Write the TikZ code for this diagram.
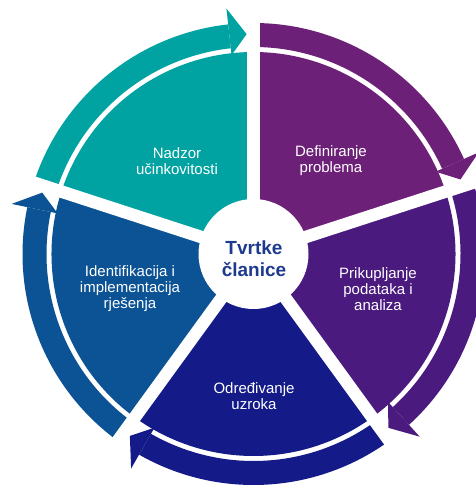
\documentclass[tikz,border=0pt]{standalone}
\usepackage{fontspec}
\setmainfont{Liberation Sans}
\definecolor{cteal}{HTML}{00A3A1}
\definecolor{cpurA}{HTML}{6D2077}
\definecolor{cpurB}{HTML}{4A1A7F}
\definecolor{cnavy}{HTML}{141A87}
\definecolor{cblue}{HTML}{0B5394}
\definecolor{ctext}{HTML}{1E3A8F}
\tikzset{
  lbl/.style={text=white, align=center, font=\fontsize{15}{16}\selectfont, inner sep=0pt},
  ctr/.style={text=ctext, align=center, font=\fontsize{19}{22}\selectfont\bfseries, inner sep=0pt},
  gapline/.style={white, line width=12.5pt},
}
\newcommand{\cyclepart}[3]{% color, start angle, end angle (clockwise)
  \fill[#1] (0,0) -- (#3:202) arc[start angle=#3, end angle=#2, radius=202] -- cycle;
  \fill[#1] (#3+6.3:207) arc[start angle=#3+6.3, end angle=#2, radius=207]
        -- (#2:231) arc[start angle=#2, end angle=#3+6.3, radius=231] -- cycle;
  \fill[#1] (#3+6.3:200) -- (#3+6.3:247) -- (#3+1.8:220) -- cycle;
}
\begin{document}
\begin{tikzpicture}[x=1pt,y=1pt]
\useasboundingbox (0,0) rectangle (476,488);
\clip (0,0) rectangle (476,488);
\coordinate (C) at (253.5,234);
\begin{scope}[shift={(C)}]
  \cyclepart{cteal}{162}{90}
  \cyclepart{cpurA}{90}{18}
  \cyclepart{cpurB}{18}{-54}
  \cyclepart{cnavy}{-54}{-126}
  \cyclepart{cblue}{-126}{-198}
  \foreach \b in {90,18,-54,-126,162}
    \draw[gapline] (0,0) -- (\b:236);
  \fill[white] (0,0) circle[radius=55];
\end{scope}
\node[lbl] (n1) at (177,327) {Nadzor\\učinkovitosti};
\node[lbl] (n2) at (331,327) {Definiranje\\problema};
\node[lbl] (n3) at (378,199) {Prikupljanje\\podataka i\\analiza};
\node[lbl] (n4) at (254,92) {Određivanje\\uzroka};
\node[lbl] (n5) at (130,199) {Identifikacija i\\implementacija\\rješenja};
\node[ctr] (c) at (254,229) {Tvrtke\\članice};
\end{tikzpicture}
\end{document}
